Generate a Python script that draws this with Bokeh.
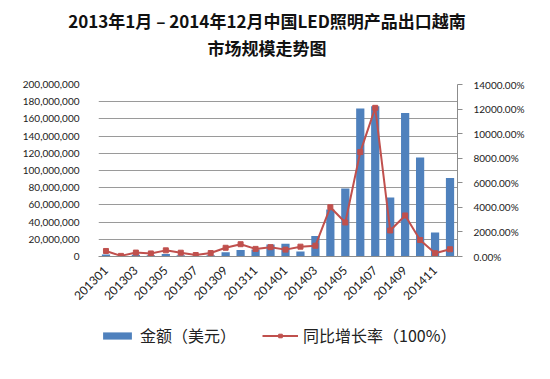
import math
from bokeh.plotting import figure
from bokeh.layouts import column
from bokeh.models import (LinearAxis, Range1d, FixedTicker, NumeralTickFormatter,
                          PrintfTickFormatter, Legend, LegendItem, Div)
from bokeh.embed import file_html
from bokeh.resources import INLINE

# ---- data ----
months = ["201301", "201302", "201303", "201304", "201305", "201306",
          "201307", "201308", "201309", "201310", "201311", "201312",
          "201401", "201402", "201403", "201404", "201405", "201406",
          "201407", "201408", "201409", "201410", "201411", "201412"]
amount_usd = [2300000, 600000, 2000000, 1500000, 3000000, 1500000,
              700000, 1500000, 4800000, 7700000, 8000000, 14000000,
              14800000, 5800000, 23700000, 54700000, 79000000, 172000000,
              174800000, 68600000, 166900000, 115000000, 27800000, 91200000]
yoy_pct = [450, 50, 320, 250, 500, 310, 120, 280, 710, 1000, 620, 760,
           560, 800, 880, 4010, 2770, 8500, 12100, 2120, 3340, 1340, 270, 590]
left_ticks = list(range(0, 200000001, 20000000))
right_ticks = list(range(0, 14001, 2000))
x_tick_idx = list(range(0, 24, 2))

title_line1 = "2013年1月 – 2014年12月中国LED照明产品出口越南"
title_line2 = "市场规模走势图"
legend_bar = "金额（美元）"
legend_line = "同比增长率（100%）"

idx = list(range(len(months)))

CJK = "Noto Sans CJK SC"
NUM = "Lato"
BLUE = "#4F81BD"
RED = "#C0504D"
W = 534

# ---- title ----
title_div = Div(text=title_line1 + "<br>" + title_line2, width=W, height=64,
                margin=0,
                styles={"font-family": CJK, "font-size": "17px",
                        "font-weight": "bold", "text-align": "center",
                        "line-height": "27px", "padding-top": "7px",
                        "color": "#111111", "box-sizing": "border-box"})

# ---- main chart ----
p = figure(width=W, height=242, output_backend="svg", toolbar_location=None,
           x_range=Range1d(-0.5, len(months) - 0.5),
           y_range=Range1d(0, 200000000),
           min_border_left=98, min_border_right=77,
           min_border_top=20, min_border_bottom=50)
p.title.visible = False
p.outline_line_color = None
p.extra_y_ranges = {"pct": Range1d(0, 14000)}

bars = p.vbar(x=idx, top=amount_usd, width=0.55, color=BLUE, line_color=None)
line = p.line(x=idx, y=yoy_pct, y_range_name="pct", color=RED, line_width=2)
marks = p.scatter(x=idx, y=yoy_pct, y_range_name="pct", marker="square", size=5,
                  color=RED)

p.xgrid.visible = False
p.ygrid.ticker = FixedTicker(ticks=left_ticks)
p.ygrid.grid_line_color = "#9a9a9a"
p.ygrid.grid_line_width = 1

ya = p.yaxis[0]
ya.ticker = FixedTicker(ticks=left_ticks)
ya.formatter = NumeralTickFormatter(format="0,0")
ya.axis_line_color = None
ya.major_tick_line_color = None
ya.minor_tick_line_color = None
ya.major_label_standoff = 13
ya.major_label_text_font = NUM
ya.major_label_text_font_size = "10px"
ya.major_label_text_color = "#222222"

ra = LinearAxis(y_range_name="pct", ticker=FixedTicker(ticks=right_ticks),
                formatter=PrintfTickFormatter(format="%.2f%%"))
ra.axis_line_color = "#8c8c8c"
ra.major_tick_line_color = "#8c8c8c"
ra.major_tick_in = 0
ra.major_tick_out = 5
ra.minor_tick_line_color = None
ra.major_label_standoff = 11
ra.major_label_text_font = NUM
ra.major_label_text_font_size = "10px"
ra.major_label_text_color = "#222222"
p.add_layout(ra, "right")

xa = p.xaxis[0]
xa.ticker = FixedTicker(ticks=x_tick_idx)
xa.major_label_overrides = {i: months[i] for i in x_tick_idx}
xa.major_label_orientation = math.pi / 4
xa.axis_line_color = "#8c8c8c"
xa.major_tick_line_color = None
xa.minor_tick_line_color = None
xa.major_label_standoff = 6
xa.major_label_text_font = NUM
xa.major_label_text_font_size = "12px"
xa.major_label_text_color = "#222222"

# ---- legend strip (hidden renderers share the chart's data and styles) ----
lg = figure(width=W, height=57, output_backend="svg", toolbar_location=None,
            x_range=Range1d(100, 101), y_range=Range1d(-2, -1),
            x_axis_location=None, y_axis_location=None, min_border=0)
lg.title.visible = False
lg.outline_line_color = None
lg.grid.visible = False
lbar = lg.vbar(x=idx, top=amount_usd, width=0.55, color=BLUE, line_color=None,
               visible=False)
lline = lg.line(x=idx, y=yoy_pct, color=RED, line_width=2, visible=False)
lmark = lg.scatter(x=idx, y=yoy_pct, marker="square", size=5, color=RED,
                   visible=False)
legend = Legend(items=[LegendItem(label=legend_bar, renderers=[lbar]),
                       LegendItem(label=legend_line, renderers=[lline, lmark])],
                orientation="horizontal", location=(1, 16),
                glyph_width=36, glyph_height=9, label_standoff=5, spacing=26,
                label_text_font=CJK, label_text_font_size="16px",
                label_text_color="#222222", inactive_fill_alpha=0,
                click_policy="none",
                border_line_color=None, background_fill_alpha=0,
                padding=0, margin=0)
lg.add_layout(legend, "center")

layout = column(title_div, p, lg, spacing=0)
open("out.html", "w").write(file_html(layout, INLINE))
